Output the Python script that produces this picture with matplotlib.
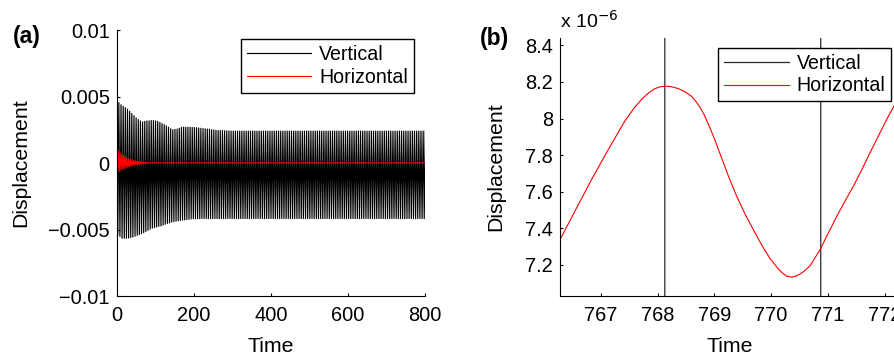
import matplotlib.pyplot as plt
import numpy as np

plt.rcParams['font.family'] = ['Liberation Sans', 'DejaVu Sans']
plt.rcParams['font.size'] = 14.4
plt.rcParams['axes.linewidth'] = 0.8

# (a) envelopes (displacement in units of 1e-3)
vert_env_t = [0, 13, 26, 39, 52, 66, 79, 92, 105, 118, 131, 144, 157, 170, 196, 222, 260, 300, 800]
vert_upper = [4.7, 4.33, 4.1, 3.73, 3.35, 3.08, 3.16, 3.2, 3.15, 2.96, 2.76, 2.5, 2.55, 2.7, 2.68, 2.6, 2.45, 2.4, 2.4]
vert_lower = [-5.3, -5.66, -5.66, -5.6, -5.45, -5.3, -5.1, -4.9, -4.8, -4.7, -4.55, -4.43, -4.36, -4.3, -4.2, -4.18, -4.18, -4.18, -4.18]
vert_half_period = 2.8

horiz_env_t = [0, 10, 26, 40, 52, 72, 90, 800]
horiz_upper = [1.1, 0.75, 0.4, 0.22, 0.15, 0.05, 0.0076, 0.0076]
horiz_lower = [-0.8, -0.55, -0.35, -0.2, -0.12, -0.04, 0.0076, 0.0076]
horiz_half_period = 2.2

# (b) zoom around t = 768 (displacement in units of 1e-6)
horiz_b_t = [766.28, 766.54, 766.835, 767.13, 767.42, 767.58, 767.715, 767.84, 767.95, 768.04,
             768.127, 768.24, 768.36, 768.48, 768.595, 768.67, 768.75, 768.82, 768.89, 769.0,
             769.12, 769.25, 769.394, 769.54, 769.687, 769.84, 769.98, 770.12, 770.2, 770.275,
             770.36, 770.45, 770.56, 770.685, 770.86, 771.0, 771.155, 771.3, 771.447, 771.6,
             771.74, 771.89, 772.035, 772.18, 772.4]
horiz_b_v = [7.337, 7.492, 7.666, 7.830, 7.985, 8.055, 8.104, 8.140, 8.163, 8.173,
             8.177, 8.174, 8.164, 8.147, 8.122, 8.095, 8.060, 8.020, 7.972, 7.890,
             7.790, 7.683, 7.574, 7.478, 7.392, 7.305, 7.235, 7.180, 7.155, 7.138,
             7.133, 7.140, 7.160, 7.195, 7.282, 7.370, 7.465, 7.548, 7.629, 7.722,
             7.812, 7.905, 7.995, 8.077, 8.19]
vert_b_t = [768.12, 768.13, 770.87, 770.88]
vert_b_v = [-4000, 2400, 2400, -4000]


def zigzag(env_t, upper, lower, half):
    t = np.arange(0, env_t[-1] + half, half)
    up = np.interp(t, env_t, upper)
    lo = np.interp(t, env_t, lower)
    y = np.where(np.arange(len(t)) % 2 == 0, up, lo)
    return t, y * 1e-3


W, H = 895, 361
fig = plt.figure(figsize=(W / 100, H / 100), dpi=100)
leg_kw = dict(loc='upper left', bbox_transform=fig.transFigure, borderaxespad=0,
              fancybox=False, edgecolor='k', framealpha=1, handlelength=3.3,
              handletextpad=0.4, labelspacing=0.2, borderpad=0.3, fontsize=14.1)

# ---- (a)
ax1 = fig.add_axes([116.7 / W, 65 / H, 308.3 / W, 266 / H])
tv, yv = zigzag(vert_env_t, vert_upper, vert_lower, vert_half_period)
th, yh = zigzag(horiz_env_t, horiz_upper, horiz_lower, horiz_half_period)
ax1.plot(tv, yv, color='k', lw=0.85, label='Vertical')
ax1.plot(th, yh, color='#ff0000', lw=0.8, label='Horizontal')
ax1.set_xlim(0, 800)
ax1.set_ylim(-0.01, 0.01)
ax1.set_xticks([0, 200, 400, 600, 800])
ax1.set_yticks([-0.01, -0.005, 0, 0.005, 0.01])
ax1.set_yticklabels(['\u22120.01', '\u22120.005', '0', '0.005', '0.01'])
ax1.set_xlabel('Time', fontsize=15.3)
ax1.set_ylabel('Displacement', fontsize=15.3)
ax1.xaxis.set_label_coords(0.5, -0.155)
ax1.yaxis.set_label_coords(-0.281, 0.5)
ax1.legend(bbox_to_anchor=(240.7 / W, 1 - 39.3 / H), **leg_kw)

# ---- (b)
ax2 = fig.add_axes([560 / W, 65 / H, 340 / W, 258 / H])
ax2.plot(vert_b_t, vert_b_v, color='#2a2a2a', lw=0.9, label='Vertical')
ax2.plot(horiz_b_t, horiz_b_v, color='#ff0000', lw=0.8, label='Horizontal')
ax2.set_xlim(766.28, 772.27)
ax2.set_ylim(7.03, 8.44)
ax2.set_xticks([767, 768, 769, 770, 771, 772])
ax2.set_yticks([7.2, 7.4, 7.6, 7.8, 8.0, 8.2, 8.4])
ax2.set_yticklabels(['7.2', '7.4', '7.6', '7.8', '8', '8.2', '8.4'])
ax2.set_xlabel('Time', fontsize=15.3)
ax2.set_ylabel('Displacement', fontsize=15.3)
ax2.xaxis.set_label_coords(0.5, -0.16)
ax2.yaxis.set_label_coords(-0.162, 0.5)
ax2.legend(bbox_to_anchor=(718.3 / W, 1 - 47.7 / H), **leg_kw)

for ax in (ax1, ax2):
    ax.spines['top'].set_visible(False)
    ax.spines['right'].set_visible(False)
    ax.tick_params(direction='in', length=2.5, width=0.8)
    ax.tick_params(axis='x', pad=7)
    ax.tick_params(axis='y', pad=5)

fig.text(13 / W, 1 - 36.7 / H, '(a)', weight='bold', va='center', fontsize=16.5)
fig.text(480 / W, 1 - 38 / H, '(b)', weight='bold', va='center', fontsize=16.5)
fig.text(560 / W, 1 - 28 / H, 'x 10$^{-6}$', va='baseline', fontsize=14)

fig.savefig('out.png', dpi=100)
